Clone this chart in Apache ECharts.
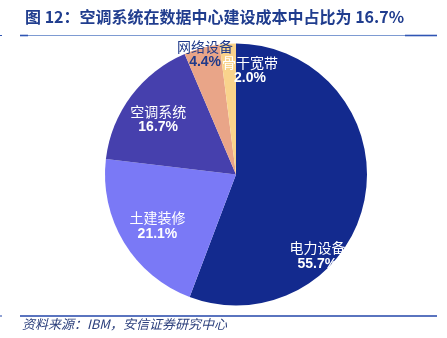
<!DOCTYPE html>
<html>
<head>
<meta charset="utf-8">
<script src="https://cdn.jsdelivr.net/npm/echarts@6/dist/echarts.min.js"></script>
<style>
  html, body { margin: 0; padding: 0; background: #ffffff; }
  #chart { width: 447px; height: 338px; }
</style>
</head>
<body>
<div id="chart"></div>
<script>
// Cost breakdown of data-center construction
const categories = ['电力设备', '土建装修', '空调系统', '网络设备', '骨干宽带'];
const shares = [55.7, 21.1, 16.7, 4.4, 2.0];
const sliceColors = ['#132a8e', '#7a79f6', '#4640ad', '#e9a588', '#f9d38c'];
const labelColors = ['#ffffff', '#ffffff', '#ffffff', '#1f3a8a', '#ffffff'];
// label anchor per slice and the nudge applied from it
const labelPlaces = ['inside', 'inside', 'inside', 'inside', 'center'];
const labelOffsets = [[14, 69], [-20, 16], [-23, -14], [-13, -54], [14, -104]];

const titleText = '图 12：空调系统在数据中心建设成本中占比为 16.7%';
const sourceText = '资料来源：IBM，安信证券研究中心';

const font = '"Noto Sans CJK SC", "Liberation Sans", sans-serif';

const pieData = categories.map((name, i) => ({
  name,
  value: shares[i],
  itemStyle: { color: sliceColors[i] },
  labelLine: { show: false, length: 0, length2: 0 },
  label: {
    position: labelPlaces[i],
    offset: labelOffsets[i],
    align: 'center',
    rich: {
      n: { color: labelColors[i], fontSize: 14, fontFamily: font, lineHeight: 16, align: 'center' },
      p: { color: labelColors[i], fontSize: 14, fontWeight: 'bold', fontFamily: 'Liberation Sans, Arial, sans-serif', lineHeight: 16, align: 'center' }
    }
  }
}));

const chart = echarts.init(document.getElementById('chart'), null, { renderer: 'canvas' });
chart.setOption({
  backgroundColor: '#ffffff',
  animation: false,
  title: {
    text: titleText,
    left: 20,
    top: 4,
    textStyle: { color: '#203d8e', fontSize: 16, fontWeight: 'bold', fontFamily: font }
  },
  graphic: [
    { type: 'line', shape: { x1: 20, y1: 35.5, x2: 437, y2: 35.5 }, style: { stroke: '#7e9bd2', lineWidth: 1.2 } },
    { type: 'line', shape: { x1: 20, y1: 35.5, x2: 28, y2: 35.5 }, style: { stroke: '#2f55b4', lineWidth: 1.6 } },
    { type: 'line', shape: { x1: 405, y1: 35.5, x2: 437, y2: 35.5 }, style: { stroke: '#2f55b4', lineWidth: 1.6 } },
    { type: 'line', shape: { x1: 0, y1: 35.5, x2: 2, y2: 35.5 }, style: { stroke: '#2f55b4', lineWidth: 1.2 } },
    { type: 'line', shape: { x1: 20, y1: 316, x2: 437, y2: 316 }, style: { stroke: '#2346aa', lineWidth: 1.6 } },
    { type: 'line', shape: { x1: 0, y1: 316, x2: 2, y2: 316 }, style: { stroke: '#2346aa', lineWidth: 1.2 } },
    {
      type: 'text', left: 22, top: 318,
      style: { text: sourceText, fill: '#2b3f7c', fontSize: 13, fontStyle: 'italic', fontFamily: font }
    }
  ],
  series: [{
    type: 'pie',
    center: [236, 174.5],
    radius: [0, 131],
    startAngle: 90,
    clockwise: true,
    avoidLabelOverlap: false,
    minShowLabelAngle: 0,
    labelLayout: { hideOverlap: false },
    emphasis: { disabled: true },
    label: {
      show: true,
      formatter: p => '{n|' + p.name + '}\n{p|' + p.value.toFixed(1) + '%}'
    },
    data: pieData
  }]
});
</script>
</body>
</html>
